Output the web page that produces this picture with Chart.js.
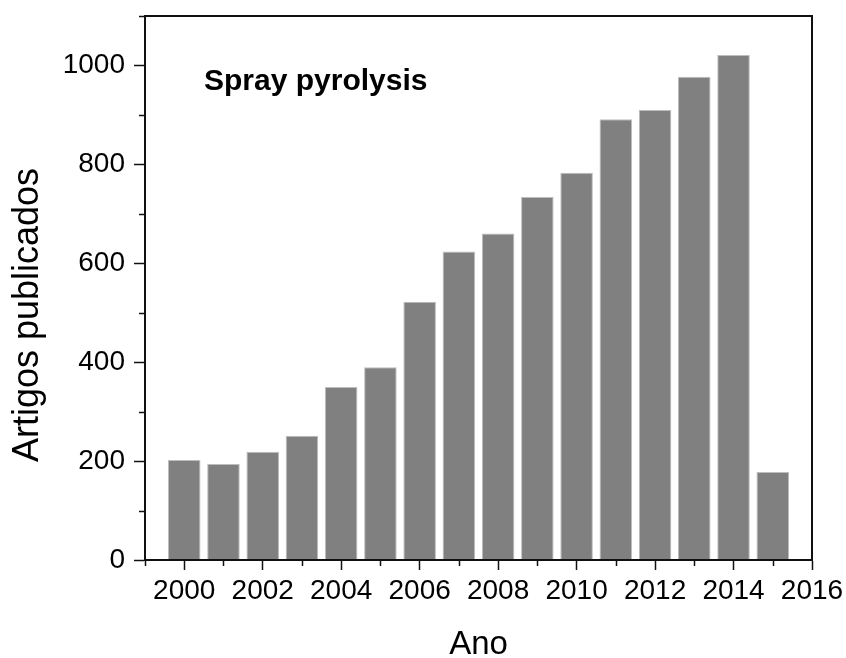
<!DOCTYPE html>
<html>
<head>
<meta charset="utf-8">
<title>Spray pyrolysis</title>
<script src="https://cdn.jsdelivr.net/npm/chart.js@4.4.1/dist/chart.umd.min.js"></script>
<style>
  html, body { margin: 0; padding: 0; background: #fff; }
  canvas { display: block; }
</style>
</head>
<body>
<canvas id="myChart" width="846" height="658"></canvas>
<script>
// anos e artigos publicados
const years = [2000, 2001, 2002, 2003, 2004, 2005, 2006, 2007, 2008, 2009, 2010, 2011, 2012, 2013, 2014, 2015];
const articles = [202, 194, 219, 251, 350, 390, 522, 624, 660, 734, 783, 891, 910, 977, 1021, 178];

const xLabelYears = [2000, 2002, 2004, 2006, 2008, 2010, 2012, 2014, 2016];
const yLabelValues = [0, 200, 400, 600, 800, 1000];

const FONT = "'Liberation Sans', Arial, Helvetica, sans-serif";

// moldura + ticks menores + textos extras
const framePlugin = {
    id: "frame",
    afterDraw(chart) {
        const { ctx, chartArea: a, scales } = chart;
        ctx.save();
        ctx.strokeStyle = "#111";
        ctx.lineWidth = 2;
        ctx.strokeRect(a.left, a.top, a.right - a.left, a.bottom - a.top);

        // ticks menores
        ctx.lineWidth = 1.5;
        ctx.beginPath();
        scales.x.ticks.forEach((t) => {
            if (!xLabelYears.includes(t.value)) {
                const px = Math.round(scales.x.getPixelForValue(t.value)) + 0.5;
                ctx.moveTo(px, a.bottom);
                ctx.lineTo(px, a.bottom + 6);
            }
        });
        scales.y.ticks.forEach((t) => {
            if (!yLabelValues.includes(t.value)) {
                const py = Math.round(scales.y.getPixelForValue(t.value)) + 0.5;
                ctx.moveTo(a.left, py);
                ctx.lineTo(a.left - 6, py);
            }
        });
        ctx.stroke();

        // título do eixo Y
        ctx.fillStyle = "#000";
        ctx.font = `36px ${FONT}`;
        ctx.textAlign = "center";
        ctx.textBaseline = "alphabetic";
        ctx.save();
        ctx.translate(38, 315);
        ctx.rotate(-Math.PI / 2);
        ctx.fillText("Artigos publicados", 0, 0);
        ctx.restore();

        // rótulo
        ctx.font = `bold 30px ${FONT}`;
        ctx.textAlign = "left";
        ctx.fillText("Spray pyrolysis", 204, 90);
        ctx.restore();
    },
};

const ctx = document.getElementById("myChart");

new Chart(ctx, {
    type: "bar",
    data: {
        datasets: [
            {
                label: "Artigos publicados",
                data: years.map((y, i) => ({ x: y, y: articles[i] })),
                backgroundColor: "#808080",
                borderColor: "#bdbdbd",
                borderWidth: 1,
                barPercentage: 0.83,
                categoryPercentage: 1,
            },
        ],
    },
    options: {
        responsive: false,
        animation: false,
        layout: { padding: { top: 16, right: 34, left: 0, bottom: 0 } },
        plugins: {
            legend: { display: false },
            tooltip: { enabled: false },
        },
        scales: {
            x: {
                type: "linear",
                min: 1999,
                max: 2016,
                offset: false,
                afterFit: (s) => { s.height = 98; s.paddingRight = 0; s.paddingLeft = 0; },
                ticks: {
                    stepSize: 1,
                    autoSkip: false,
                    maxRotation: 0,
                    padding: 4,
                    color: "#000",
                    font: { family: FONT, size: 28 },
                    callback: (v) => (xLabelYears.includes(v) ? String(v) : ""),
                },
                grid: {
                    offset: false,
                    drawOnChartArea: false,
                    tickLength: 10,
                    tickWidth: 1.5,
                    tickColor: (c) => (c.tick && !xLabelYears.includes(c.tick.value) ? "rgba(0,0,0,0)" : "#111"),
                },
                border: { color: "#111", width: 2 },
                title: {
                    display: true,
                    text: "Ano",
                    color: "#000",
                    font: { family: FONT, size: 33, lineHeight: 0.8 },
                    padding: 0,
                },
            },
            y: {
                min: 0,
                max: 1100,
                afterFit: (s) => { s.width = 145; s.paddingTop = 0; s.paddingBottom = 0; },
                ticks: {
                    stepSize: 100,
                    padding: 9,
                    color: "#000",
                    font: { family: FONT, size: 28 },
                    callback: (v) => (yLabelValues.includes(v) ? String(v) : ""),
                },
                grid: {
                    drawOnChartArea: false,
                    tickLength: 11,
                    tickWidth: 1.5,
                    tickColor: (c) => (c.tick && !yLabelValues.includes(c.tick.value) ? "rgba(0,0,0,0)" : "#111"),
                },
                border: { color: "#111", width: 2 },
            },
        },
    },
    plugins: [framePlugin],
});
</script>
</body>
</html>
